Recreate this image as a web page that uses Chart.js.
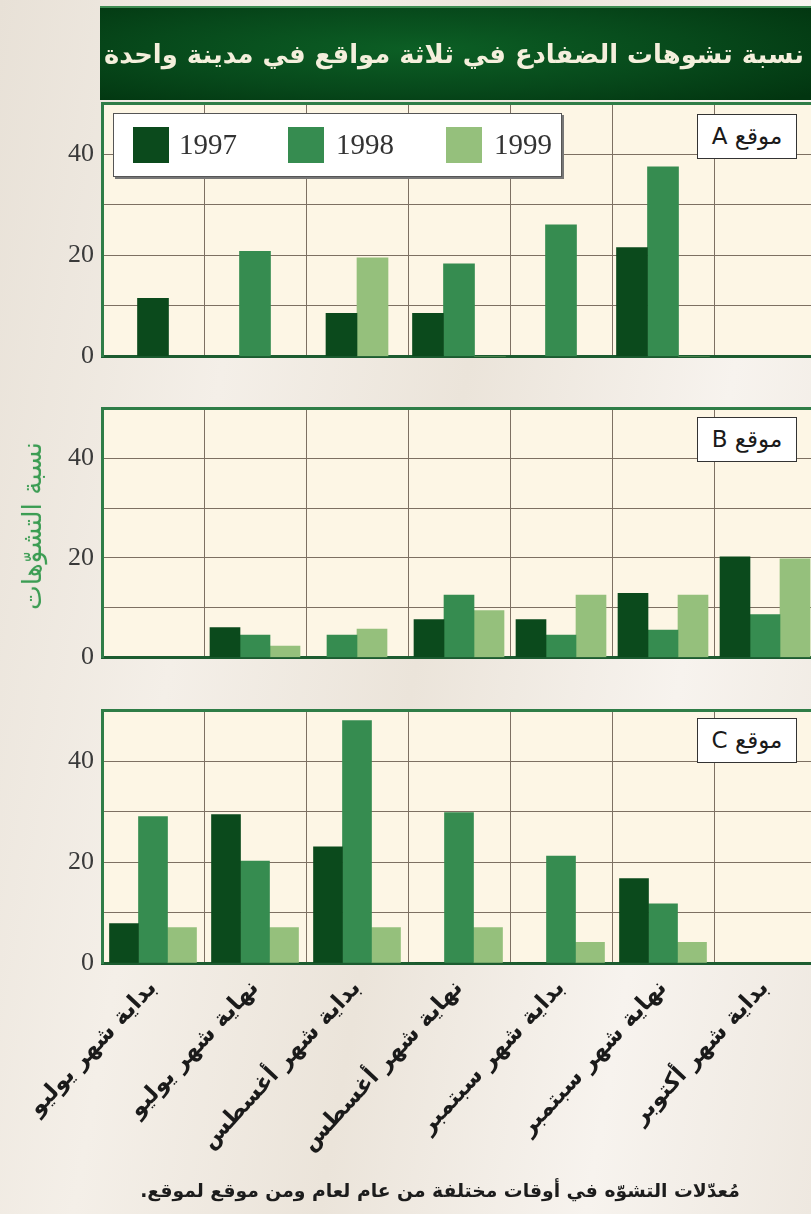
<!DOCTYPE html>
<html lang="ar">
<head>
<meta charset="utf-8">
<script src="https://cdn.jsdelivr.net/npm/chart.js@4.4.1/dist/chart.umd.min.js"></script>
<style>
html,body{margin:0;padding:0;width:811px;height:1214px;overflow:hidden;}
body{position:relative;background:linear-gradient(100deg,#e8e1d7 0%,#f4efe8 28%,#ebe4da 52%,#f7f3ee 78%,#eee8e0 100%);}
canvas{position:absolute;left:0;}
#titlebar{position:absolute;left:100px;top:6px;width:711px;height:94px;z-index:5;
  background:radial-gradient(ellipse 70% 80% at 45% 45%,#0c5f25 0%,#07491b 55%,#023510 100%);
  border-top:2px solid #3e8c52;box-sizing:border-box;}
#title{position:absolute;right:7px;top:50%;transform:translateY(-50%);white-space:nowrap;
  font-family:"DejaVu Sans",sans-serif;font-weight:bold;font-size:26px;color:#f4efdc;direction:rtl;}
#legend{position:absolute;left:113px;top:113px;width:449px;height:64px;background:#fff;
  border:1px solid #555;box-shadow:2px 2px 0 #777;z-index:4;box-sizing:border-box;}
.sw{position:absolute;top:13px;width:36px;height:36px;}
.lt{position:absolute;top:6px;font-family:"Liberation Serif",serif;font-size:29px;color:#333;line-height:48px;}
.site{position:absolute;left:697px;width:100px;height:45px;background:#fff;border:1.5px solid #333;
  box-sizing:border-box;z-index:4;font-family:"DejaVu Sans",sans-serif;font-size:23px;color:#1a1a1a;
  text-align:center;line-height:42px;direction:rtl;}
#ytitle{position:absolute;white-space:nowrap;font-family:"DejaVu Sans",sans-serif;font-size:17px;
  color:#3a9c52;direction:rtl;z-index:4;}
#caption{position:absolute;white-space:nowrap;font-family:"DejaVu Sans",sans-serif;font-weight:bold;
  font-size:20px;color:#1c1c1c;direction:rtl;z-index:4;}
</style>
</head>
<body>
<div id="titlebar"><span id="title"></span></div>
<canvas id="cA" width="830" height="300" style="top:80px"></canvas>
<canvas id="cB" width="830" height="296" style="top:385px"></canvas>
<canvas id="cC" width="830" height="527" style="top:687px"></canvas>
<div id="legend"></div>
<div class="site" id="sA" style="top:114px"></div>
<div class="site" id="sB" style="top:417px"></div>
<div class="site" id="sC" style="top:718px"></div>
<span id="ytitle"></span>
<span id="caption"></span>
<script>
// ---- data ----
const categories = ['بداية شهر يوليو','نهاية شهر يوليو','بداية شهر أغسطس','نهاية شهر أغسطس','بداية شهر سبتمبر','نهاية شهر سبتمبر','بداية شهر أكتوبر'];
const years = ['1997','1998','1999'];
const siteA1997 = [11.5, null, 8.5, 8.5, null, 21.5, null];
const siteA1998 = [null, 20.8, null, 18.3, 26, 37.5, null];
const siteA1999 = [null, null, 19.5, 0, null, 0, null];
const siteB1997 = [null, 6, null, 7.6, 7.6, 12.9, 20.2];
const siteB1998 = [null, 4.5, 4.5, 12.5, 4.5, 5.5, 8.6];
const siteB1999 = [null, 2.3, 5.7, 9.4, 12.5, 12.5, 19.8];
const siteC1997 = [7.8, 29.4, 23, 0, 0, 16.7, null];
const siteC1998 = [29, 20.2, 48, 29.8, 21.2, 11.7, null];
const siteC1999 = [7, 7, 7, 7, 4.1, 4.1, null];
const yTickLabels = [0, 20, 40];
const siteNames = ['موقع A','موقع B','موقع C'];
const chartTitle = 'نسبة تشوهات الضفادع في ثلاثة مواقع في مدينة واحدة';
const yAxisTitle = 'نسبة التشوّهات';
const captionText = 'مُعدّلات التشوّه في أوقات مختلفة من عام لعام ومن موقع لموقع.';
const seriesColors = ['#0b4a1c','#368c50','#95c07c'];

// ---- text overlays ----
function fitWidth(el, target){
  const w = el.getBoundingClientRect().width;
  const fs = parseFloat(getComputedStyle(el).fontSize);
  el.style.fontSize = (fs*target/w)+'px';
}
const t = document.getElementById('title'); t.textContent = chartTitle; fitWidth(t, 700);
['sA','sB','sC'].forEach((id,i)=>{document.getElementById(id).textContent = siteNames[i];});
const lg = document.getElementById('legend');
const swLeft=[19,174,332], txLeft=[65,222,380];
years.forEach((y,i)=>{
  const s=document.createElement('div'); s.className='sw'; s.style.left=swLeft[i]+'px'; s.style.background=seriesColors[i]; lg.appendChild(s);
  const l=document.createElement('div'); l.className='lt'; l.style.left=txLeft[i]+'px'; l.textContent=y; lg.appendChild(l);
});
const yt = document.getElementById('ytitle'); yt.textContent = yAxisTitle; fitWidth(yt, 168);
{ const r = yt.getBoundingClientRect(); yt.style.left=(32-r.width/2)+'px'; yt.style.top=(526-r.height/2)+'px'; yt.style.transform='rotate(-90deg)'; }
const cp = document.getElementById('caption'); cp.textContent = captionText; fitWidth(cp, 600);
{ const r = cp.getBoundingClientRect(); cp.style.left=(440-r.width/2)+'px'; cp.style.top=(1190-r.height/2)+'px'; }

// x tick font size fitted
const mc = document.createElement('canvas').getContext('2d');
mc.font = 'bold 20px "DejaVu Sans"';
const xFont = Math.max(12, Math.min(24, 20*221/mc.measureText(categories[2]).width));

const bgPlugin = { id:'plotBg', beforeDraw(chart){ const {ctx, chartArea:a}=chart; ctx.save(); ctx.fillStyle='#fdf6e5'; ctx.fillRect(a.left,a.top,a.right-a.left,a.bottom-a.top); ctx.restore(); } };

function makeChart(id, series, o){
  return new Chart(document.getElementById(id), {
    type:'bar',
    data:{ labels: categories, datasets: series.map((d,i)=>({label:years[i], data:d, backgroundColor:seriesColors[i], borderWidth:0, barThickness:o.bar, skipNull:true})) },
    options:{
      responsive:false, animation:false, devicePixelRatio:1,
      layout:{padding:{top:20,bottom:o.padBottom,left:0,right:14}},
      plugins:{legend:{display:false}, tooltip:{enabled:false}},
      scales:{
        x:{ offset:true,
            grid:{offset:true, color:'#7d7062', lineWidth:1, drawTicks:false},
            border:{color:'#1c5c30', width:3},
            ticks:{display:o.showX, autoSkip:false, minRotation:47, maxRotation:47, padding:12,
                   color:'#1a1a1a', font:{family:'DejaVu Sans', weight:'bold', size:xFont}},
            afterFit:(s)=>{ s.height = o.xHeight; } },
        y:{ min:0, max:50,
            ticks:{stepSize:10, callback:(v)=> yTickLabels.includes(v) ? String(v) : '', padding:8,
                   color:'#3a3a3a', font:{family:'Liberation Serif', size:26}},
            grid:{drawTicks:false, color:(c)=> (c.tick && c.tick.value===50) ? '#2f7d47' : '#7d7062',
                  lineWidth:(c)=> (c.tick && c.tick.value===50) ? 3 : 1},
            border:{color:'#2f7d47', width:3},
            afterFit:(s)=>{ s.width = 102; } }
      }
    },
    plugins:[bgPlugin]
  });
}
makeChart('cA', [siteA1997, siteA1998, siteA1999], {bar:31, padBottom:20, xHeight:0, showX:false});
makeChart('cB', [siteB1997, siteB1998, siteB1999], {bar:30, padBottom:20, xHeight:0, showX:false});
makeChart('cC', [siteC1997, siteC1998, siteC1999], {bar:29, padBottom:0, xHeight:251, showX:true});
</script>
</body>
</html>
